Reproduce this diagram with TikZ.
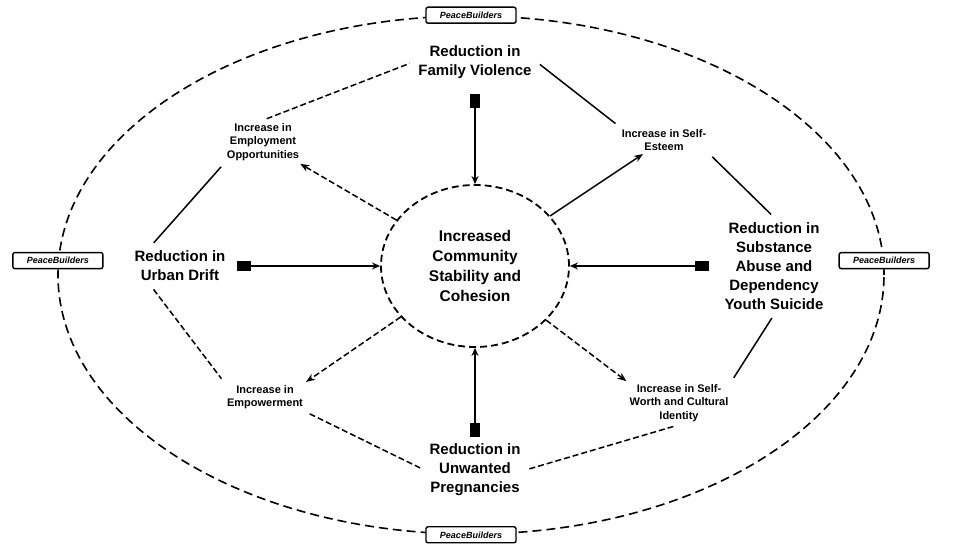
\documentclass[tikz,border=0pt]{standalone}
\usepackage{fontspec}
\setmainfont{Liberation Sans}
\usetikzlibrary{positioning,shapes.geometric,arrows.meta}

\begin{document}
\begin{tikzpicture}[x=1pt, y=1pt, on grid, every node/.style={font=\bfseries, align=center},
    hub/.style={ellipse, draw=black, line width=1.8pt, dash pattern=on 7pt off 4pt, minimum width=188pt, minimum height=162pt, inner sep=0pt, font=\fontsize{15.5}{20}\selectfont\bfseries},
    reduce/.style={inner sep=5pt, font=\fontsize{15}{19}\selectfont\bfseries},
    gain/.style={inner sep=3pt, font=\fontsize{11}{13.5}\selectfont\bfseries},
    ring/.style={ellipse, draw=black, line width=1.6pt, dash pattern=on 9pt off 5pt, minimum width=826pt, minimum height=518pt, inner sep=0pt},
    badge/.style={rectangle, rounded corners=2pt, draw=black, line width=1.4pt, fill=white, minimum width=90pt, minimum height=16pt, inner sep=1pt, font=\fontsize{9}{10}\selectfont\bfseries\itshape},
    feed/.style={{Rectangle[length=14pt,width=10pt]}-{Stealth[length=8pt,width=7pt]}, line width=1.6pt},
    spread/.style={-{Stealth[length=9pt,width=7pt]}, line width=1.5pt},
    link/.style={line width=1.5pt, shorten <=4pt, shorten >=4pt},
    dashlink/.style={link, dash pattern=on 6pt off 3pt}]
    \path[use as bounding box, fill=white] (0,0) rectangle (975,549);
    \node[ring] (ring) at (471,274) {};
    \node[hub] (hub) at (475,283) {Increased\\Community\\Stability and\\Cohesion};
    \node[reduce, above=204pt of hub] (family) {Reduction in\\Family Violence};
    \node[reduce, left=295pt of hub] (drift) {Reduction in\\Urban Drift};
    \node[reduce, right=299pt of hub] (substance) {Reduction in\\Substance\\Abuse and\\Dependency\\Youth Suicide};
    \node[reduce, below=204pt of hub] (pregnancy) {Reduction in\\Unwanted\\Pregnancies};
    \node[gain, above left=124pt and 212pt of hub] (jobs) {Increase in\\Employment\\Opportunities};
    \node[gain, above right=126pt and 189pt of hub] (esteem) {Increase in Self-\\Esteem};
    \node[gain, below left=131pt and 210pt of hub] (power) {Increase in\\Empowerment};
    \node[gain, below right=137pt and 204pt of hub] (worth) {Increase in Self-\\Worth and Cultural\\Identity};
    \node[badge] (pbtop) at (ring.north) {PeaceBuilders};
    \node[badge] (pbbottom) at (ring.south) {PeaceBuilders};
    \node[badge] (pbleft) at (ring.178.5) {PeaceBuilders};
    \node[badge] (pbright) at (ring.2) {PeaceBuilders};
    % reductions feed the hub
    \draw[feed, shorten <=10pt] (family) -- (hub);
    \draw[feed, shorten <=6pt] (drift) -- (hub);
    \draw[feed, shorten <=10pt] (substance) -- (hub);
    \draw[feed, shorten <=2pt] (pregnancy) -- (hub);
    % hub spreads out to the increases
    \draw[spread, dash pattern=on 6pt off 3pt] (hub) -- (jobs);
    \draw[spread] (hub) -- (esteem);
    \draw[spread, dash pattern=on 6pt off 3pt] (hub) -- (power.north east);
    \draw[spread, dash pattern=on 6pt off 3pt] (hub) -- (worth.north west);
    % links round the hub
    \draw[dashlink] (jobs.north) -- (family.west);
    \draw[link] (family.east) -- (esteem.north west);
    \draw[link] (esteem.south east) -- (substance.north);
    \draw[link] (worth.north east) -- (substance.south);
    \draw[dashlink] (pregnancy.east) -- (worth.south);
    \draw[dashlink] (power.south east) -- (pregnancy.west);
    \draw[dashlink] (drift.-145) -- (power.north west);
    \draw[link] (drift.145) -- (jobs.south west);
\end{tikzpicture}
\end{document}
